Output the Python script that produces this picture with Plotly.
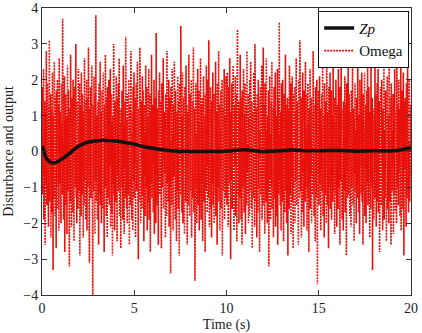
import numpy as np
import plotly.graph_objects as go

# Disturbance signal "Omega"
omega = [
0.4,-1.2,1.8,0.3,-0.7,2.3,-1.9,0.9,-0.2,1.4,-2.6,0.6,1.1,-0.9,2.8,-0.4,-1.5,0.7,1.9,-1.1,
0.2,-2.1,1.3,-0.5,3.1,-1.4,0.8,-0.3,1.6,-2.4,0.5,1.2,-1.7,0.1,2.2,-0.8,-3.3,1.0,0.4,-1.3,
2.5,-0.6,0.9,-1.8,1.5,-0.2,-2.7,1.7,0.3,-1.0,2.0,-1.6,0.7,-0.4,1.3,-2.2,2.6,-0.9,0.0,1.1,
-1.4,0.6,-2.0,1.9,-0.3,0.8,-1.2,3.7,-0.7,0.2,-1.9,1.4,-0.5,2.1,-2.8,0.9,-0.1,1.6,-1.5,0.4,
1.0,-2.3,0.5,2.4,-1.1,-0.3,1.7,-0.8,0.6,-3.2,1.2,0.1,-1.4,2.7,-0.6,0.9,-2.1,1.5,-0.2,0.7,
-1.7,2.0,-0.4,1.1,-2.5,0.3,1.8,-1.0,0.5,-0.6,3.0,-1.3,0.2,-2.0,1.4,-0.9,0.8,-1.6,2.3,-0.5,
0.6,-1.1,1.9,-2.9,0.4,1.3,-0.7,-1.8,2.2,0.1,-1.2,1.6,-0.4,0.9,-2.4,1.1,0.3,-1.5,2.6,-0.8,
-0.2,1.4,-1.9,0.7,-0.5,2.0,-2.2,0.8,1.5,-1.0,-0.3,2.9,-1.6,0.4,-3.1,1.2,0.6,-0.9,1.8,-1.3,
0.5,-0.6,2.4,-1.7,0.9,-4.0,1.3,0.2,-1.1,2.1,-0.4,0.7,-2.3,1.6,-0.8,3.8,-1.4,0.3,-0.2,1.0,
-1.9,0.8,1.4,-0.7,-2.6,1.9,0.1,-1.2,0.6,2.5,-1.5,-0.3,1.1,-2.0,0.4,1.7,-0.9,0.2,-1.6,2.2,
-0.5,0.9,-2.8,1.3,0.0,-1.0,2.7,-0.6,0.5,-1.8,1.5,-0.2,-2.4,1.8,0.7,-1.3,0.3,2.0,-0.8,-1.5,
1.2,-0.4,2.3,-2.1,0.6,-0.1,1.6,-1.7,0.8,-2.9,1.0,0.4,-0.9,3.0,-1.2,0.2,-2.2,1.4,-0.5,0.7,
-1.4,2.1,-0.3,0.9,-2.5,1.5,-0.7,0.3,1.9,-1.1,-0.2,2.6,-1.8,0.5,-0.8,1.2,-2.7,0.8,0.1,-1.0,
1.7,-0.6,0.4,-1.9,2.4,-0.3,1.1,-2.3,0.7,-0.5,1.4,-1.3,3.2,-0.9,0.2,-1.6,0.9,-2.0,1.6,-0.4,
0.3,-1.2,2.0,-0.7,-2.6,1.3,0.6,-1.5,0.1,2.8,-1.0,0.5,-1.9,1.1,-0.3,-2.2,1.8,0.0,-0.8,2.2,
-1.3,0.7,-0.4,1.5,-2.4,0.9,1.9,-1.1,0.2,-0.6,2.5,-1.7,0.4,-3.0,1.2,-0.2,0.8,-1.4,2.9,-0.5,
0.6,-2.0,1.4,-0.9,0.3,-1.6,2.1,0.1,-1.2,1.7,-0.4,-2.5,0.9,1.3,-0.7,0.5,-1.8,2.4,-1.0,0.2,
-0.6,1.8,-2.2,0.4,1.0,-1.4,-0.1,2.3,-1.9,0.7,-0.5,1.6,-2.8,1.1,0.3,-0.9,2.7,-1.3,0.6,-0.2,
1.3,-1.7,0.5,-0.4,2.0,-2.3,0.8,1.5,-1.1,0.0,-2.0,3.3,-0.7,0.4,-1.5,1.2,-0.3,0.9,-2.6,1.7,
-0.8,0.2,2.2,-1.2,-0.5,1.4,-1.9,0.6,-2.7,1.9,0.3,-1.0,0.8,-0.2,2.6,-1.6,0.5,-1.3,1.1,-0.6,
0.9,-2.4,1.6,-0.3,0.4,-1.8,2.8,-0.9,0.1,1.2,-1.4,-0.6,2.0,-2.1,0.7,1.5,-1.0,0.3,-3.4,1.8,
-0.4,1.0,-1.5,2.3,-0.8,0.5,-2.2,1.3,0.2,-0.7,2.5,-1.3,0.6,-1.9,1.7,-0.1,0.8,-2.5,1.1,0.4,
-1.1,2.1,-0.5,-1.6,1.4,0.3,-2.9,1.9,-0.2,0.7,-1.2,3.5,-0.6,0.1,-1.7,1.0,-0.4,2.2,-2.0,0.6,
1.5,-0.9,0.2,-2.3,1.8,-0.3,0.9,-1.4,2.4,-1.0,-0.1,1.3,-2.6,0.5,1.1,-0.7,-1.5,2.7,-0.2,0.8,
-1.8,0.4,1.6,-1.1,0.0,2.0,-2.4,0.7,-0.6,1.4,-1.3,0.3,2.9,-1.7,0.6,-0.4,1.2,-3.6,0.9,-0.3,
1.9,-1.0,0.5,-2.0,1.1,-0.5,2.3,-1.5,0.2,-0.8,1.7,-2.2,0.8,0.4,-1.2,2.6,-0.7,-1.9,1.3,0.1,
-0.9,1.5,-2.5,0.6,-0.2,2.1,-1.4,0.9,-0.6,1.0,-2.8,1.6,0.3,-1.1,2.4,-0.4,0.7,-1.7,2.0,-0.8,
0.4,-1.3,3.1,-0.5,-2.1,1.2,0.1,-1.6,1.8,-0.3,0.6,-2.4,1.4,-0.9,0.2,2.2,-1.5,0.8,-0.1,-2.0,
1.6,-0.7,0.3,-1.2,2.5,-1.8,0.7,-0.4,1.1,-2.6,1.9,0.0,-1.0,0.5,2.8,-1.4,-0.3,1.3,-2.2,0.6,
-0.5,1.7,-1.6,0.9,-0.2,2.0,-2.9,1.2,0.4,-1.1,1.5,-0.6,2.3,-1.9,0.8,-0.4,1.0,-1.3,2.1,0.3,
0.7,-1.5,2.2,-0.3,1.0,-2.1,0.4,1.8,-0.9,-0.2,2.6,-1.4,0.5,-3.0,1.1,0.2,-0.8,1.9,-1.6,0.3,
-0.6,2.4,-1.1,0.8,-2.2,1.3,-0.4,0.0,2.1,-1.8,0.6,-0.7,1.6,-2.5,0.9,3.4,-1.2,0.1,-0.5,1.4,
-2.0,0.5,1.2,-1.3,2.7,-0.8,0.3,-1.9,1.5,-0.1,-2.6,1.7,0.4,-1.0,0.8,2.3,-1.7,-0.3,1.0,-0.9,
1.9,-2.3,0.6,-0.4,1.3,-1.5,2.8,-0.6,0.2,-1.2,1.6,-2.0,0.9,0.3,-1.8,2.0,-0.2,-1.1,2.5,-0.7,
0.1,-1.6,1.4,-2.7,0.7,1.1,-0.5,-1.3,2.2,-0.9,0.5,-2.1,3.0,-0.4,0.8,-1.4,1.2,-0.1,-2.4,1.6,
-0.3,0.9,-1.7,2.0,-1.0,0.4,1.5,-2.8,0.6,-0.2,1.8,-1.2,0.3,-0.8,2.4,-1.9,1.1,-0.6,0.0,2.9,
-1.5,0.7,-0.4,1.3,-2.3,1.9,-0.7,0.2,-1.4,2.6,-0.9,0.6,-2.0,1.0,0.4,-1.1,1.7,-3.2,0.8,-0.3,
2.1,-0.8,0.5,-1.9,1.4,-0.2,-1.0,2.5,-1.6,0.9,-0.5,1.2,-2.4,0.3,1.8,-1.3,0.6,-0.9,2.2,-2.1,
0.4,1.0,-1.8,0.7,-0.3,2.3,-2.6,1.5,-0.6,0.2,-1.2,3.6,-0.8,0.5,-1.5,1.1,-0.1,-2.2,1.9,-0.4,
0.8,-1.4,2.0,-0.7,0.3,-2.5,1.6,-0.2,1.0,-1.7,0.6,2.7,-1.1,-0.4,1.3,-2.0,0.9,-0.6,1.5,-2.9,
1.2,-0.5,0.1,-1.6,2.4,-0.9,0.7,-1.2,1.9,-2.3,0.4,0.9,-0.7,2.1,-1.4,0.2,-2.7,1.6,-0.3,0.6,
-1.0,1.8,-2.0,0.5,1.1,-0.8,2.6,-1.5,0.3,-0.4,1.4,-1.9,0.8,-2.6,2.0,-0.1,0.6,-1.3,3.1,-0.9,
0.2,-1.1,1.5,-2.4,0.9,0.4,-1.7,2.2,-0.6,1.0,-0.2,-2.1,1.7,-0.8,0.5,-1.4,2.5,-1.0,0.3,-0.5,
1.6,-2.2,0.6,-0.3,1.9,-1.3,0.8,-2.8,1.2,0.1,-0.9,2.3,-1.6,0.4,-0.7,1.5,-2.0,0.7,1.1,-1.2,
-0.4,2.8,-1.0,0.3,-1.8,1.3,-0.5,0.9,-2.5,1.8,-0.2,0.6,-1.3,2.0,-0.8,-3.7,1.4,0.2,-0.6,1.7,
-1.5,0.5,2.1,-0.9,-0.3,1.2,-2.2,0.8,-0.5,1.6,-1.1,0.4,2.6,-1.8,0.7,-0.2,1.0,-2.4,1.9,-0.6,
0.3,-1.2,1.4,-0.4,-2.0,2.4,-0.7,0.6,-1.5,1.1,0.0,-2.7,1.8,-0.3,0.9,-1.0,2.2,-1.6,0.5,-0.8,
1.7,-1.9,0.4,1.0,-0.6,-1.4,2.9,-1.1,0.2,-0.5,1.5,-2.3,0.8,0.3,-1.2,2.0,-0.9,0.6,-2.1,1.3,
-0.2,0.7,-1.6,2.3,-1.0,0.5,-0.3,1.8,-2.6,1.1,0.4,-0.8,2.5,-1.4,0.1,-1.9,1.2,-0.4,0.9,-2.2,
1.4,-0.6,0.2,-1.1,2.1,-1.7,0.8,-0.2,1.3,-2.9,1.9,-0.5,0.6,-1.3,0.3,2.7,-1.2,-0.7,1.6,-0.1,
-1.8,1.1,-0.4,0.8,-2.1,1.7,0.2,-1.0,0.5,2.4,-1.5,0.7,-0.3,1.2,-2.5,0.9,-0.6,1.9,-1.1,0.4,
0.6,-2.0,1.5,-0.5,0.1,-1.3,3.3,-0.9,0.4,-1.7,1.0,-0.2,-2.3,2.0,-0.7,0.5,-1.2,1.4,-0.4,2.2,
-1.4,0.3,0.9,-2.6,1.6,-0.3,0.7,-1.1,2.2,-1.8,0.5,-0.5,1.3,-2.0,0.8,1.7,-0.9,-0.2,2.4,-1.5,
0.2,-0.7,1.8,-1.2,0.4,-2.4,1.1,0.6,-1.6,2.8,-0.8,0.3,-1.0,1.5,-3.3,0.9,-0.1,1.2,-1.9,0.5,
1.0,-1.3,2.5,-0.6,-0.2,1.6,-2.1,0.7,-0.9,1.9,-1.4,0.2,2.3,-1.7,0.5,-0.5,1.4,-2.8,0.8,-0.3,
1.8,-1.0,0.3,-1.5,2.0,-0.4,0.9,-2.2,1.2,-0.1,-1.1,2.6,-1.9,0.6,0.2,-1.3,1.7,-0.7,0.4,-2.5,
1.3,-0.8,2.1,-1.6,0.5,-0.2,1.0,-2.0,2.7,-0.9,0.3,-1.4,1.5,-0.5,-2.6,1.9,-0.3,0.8,-1.1,0.6,
-0.4,1.6,-2.3,0.9,0.2,-1.2,2.3,-0.6,-1.7,1.1,-0.1,0.7,-2.0,3.0,-1.0,0.4,-0.8,1.3,-1.5,2.0,
-0.6,0.3,1.2,-1.8,0.8,-0.3,2.6,-2.2,0.5,-1.0,1.7,-0.4,0.9,-1.6,2.2,-0.7,-2.9,1.4,0.1,-0.5,
1.5,-1.1,0.6,-2.1,1.9,-0.2,0.4,-1.3,2.4,-0.8,1.1,-1.7,0.3,-0.6,2.0,-1.4,0.7,-0.2,1.3,0.1,
]
t_omega = np.linspace(0, 20, len(omega))

# Output Zp
t_zp = [0, 0.1, 0.2, 0.35, 0.5, 0.7, 0.9, 1.2, 1.5, 1.8, 2.1, 2.5, 3.0, 3.5, 4.0, 4.5,
        5.0, 5.5, 6.0, 6.5, 7.0, 8.0, 9.0, 10.0, 10.5, 11.0, 11.5, 12.0, 13.0, 13.5,
        14.0, 15.0, 16.0, 17.0, 18.0, 19.0, 19.5, 20.0]
zp = [0.15, 0.02, -0.15, -0.26, -0.31, -0.31, -0.27, -0.17, -0.05, 0.08, 0.18, 0.26,
      0.30, 0.31, 0.29, 0.25, 0.20, 0.14, 0.09, 0.05, 0.02, 0.0, 0.0, 0.01, 0.03, 0.05,
      0.02, 0.0, 0.02, 0.04, 0.03, 0.02, 0.03, 0.01, 0.02, 0.02, 0.05, 0.10]

x_ticks = [0, 5, 10, 15, 20]
y_ticks = [-4, -3, -2, -1, 0, 1, 2, 3, 4]

font = dict(family="Liberation Serif", size=14, color="#222")

fig = go.Figure()
fig.add_trace(go.Scatter(x=t_omega, y=omega, mode="lines", name="Omega",
                         line=dict(color="#e8100a", width=1.6, dash="2px,1px")))
fig.add_trace(go.Scatter(x=t_zp, y=zp, mode="lines", name="<i>Zp</i>",
                         line=dict(color="#111111", width=3.5, shape="spline")))

axis_common = dict(showgrid=False, zeroline=False, showline=True, linecolor="#333",
                   linewidth=1, mirror="allticks", ticks="inside", ticklen=5,
                   tickcolor="#333", tickfont=font, automargin=False)

fig.update_layout(
    width=422, height=333,
    margin=dict(l=42, r=11, t=8, b=38),
    paper_bgcolor="white", plot_bgcolor="white",
    font=font,
    showlegend=True,
    legend=dict(x=0.995, y=0.99, xanchor="right", yanchor="top",
                bgcolor="white", bordercolor="#111", borderwidth=1,
                traceorder="reversed", font=dict(family="Liberation Serif", size=15, color="#111"),
                tracegroupgap=0, itemwidth=30),
    xaxis=dict(range=[0, 20], tickvals=x_ticks,
               title=dict(text="Time (s)", font=font, standoff=4), **axis_common),
    yaxis=dict(range=[-4, 4], tickvals=y_ticks,
               title=dict(text="Disturbance and output", font=font, standoff=6), **axis_common),
)

fig.write_html("out.html")
